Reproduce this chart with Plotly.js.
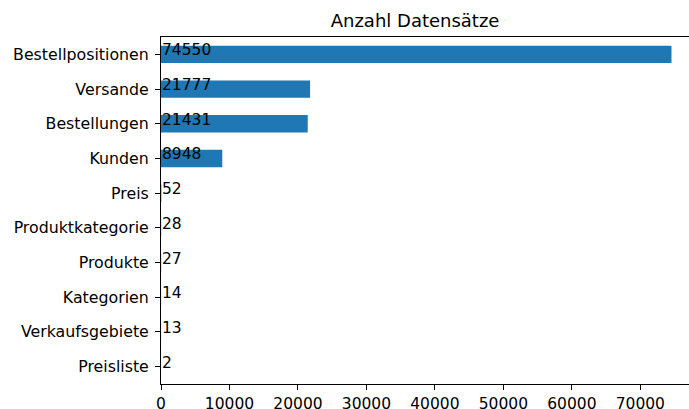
<!DOCTYPE html>
<html>
<head>
<meta charset="utf-8">
<script src="https://cdn.plot.ly/plotly-3.0.1.min.js"></script>
<style>
html,body{margin:0;padding:0;overflow:hidden;background:#fff;}
#chart{width:700px;height:409px;}
</style>
</head>
<body>
<div id="chart"></div>
<script>
const categories = ["Bestellpositionen","Versande","Bestellungen","Kunden","Preis","Produktkategorie","Produkte","Kategorien","Verkaufsgebiete","Preisliste"];
const counts = [74550, 21777, 21431, 8948, 52, 28, 27, 14, 13, 2];
const titleText = "Anzahl Datensätze";
const xTicks = [0,10000,20000,30000,40000,50000,60000,70000];

const font = "DejaVu Sans, sans-serif";

const bars = {
  type: "bar",
  orientation: "h",
  x: counts,
  y: categories,
  width: 0.5,
  marker: {color: "#1f77b4", line: {width: 0}},
  hoverinfo: "none",
  showlegend: false
};

const labelAnnotations = counts.map((v, i) => ({
  x: 0,
  y: categories[i],
  xref: "x",
  yref: "y",
  text: String(v),
  showarrow: false,
  xanchor: "left",
  yanchor: "middle",
  xshift: 0,
  yshift: 4,
  borderpad: 0,
  font: {family: font, size: 15.5, color: "#000"}
}));

const layout = {
  width: 700,
  height: 409,
  margin: {l: 161.3, r: 2.6, t: 36.7, b: 25},
  paper_bgcolor: "#fff",
  plot_bgcolor: "#fff",
  font: {family: font, color: "#000"},
  title: {
    text: titleText,
    font: {family: font, size: 18, color: "#000"},
    xref: "paper", x: 0.474, xanchor: "center",
    yref: "container", y: 1 - 20.5/409, yanchor: "middle"
  },
  annotations: labelAnnotations,
  xaxis: {
    range: [0, 78277.5],
    tickvals: xTicks,
    ticktext: xTicks.map(String),
    showgrid: false,
    zeroline: false,
    showline: true,
    linecolor: "#000",
    linewidth: 1,
    mirror: true,
    ticks: "outside",
    ticklen: 5,
    tickcolor: "#000",
    tickfont: {family: font, size: 15.5, color: "#000"}
  },
  yaxis: {
    type: "category",
    categoryorder: "array",
    categoryarray: categories.slice().reverse(),
    range: [-0.5, 9.5],
    showgrid: false,
    zeroline: false,
    showline: true,
    linecolor: "#000",
    linewidth: 1,
    mirror: true,
    ticks: "outside",
    ticklen: 5,
    tickcolor: "#000",
    ticklabelstandoff: 3,
    tickfont: {family: font, size: 15.8, color: "#000"}
  }
};

Plotly.newPlot("chart", [bars], layout, {displayModeBar: false, staticPlot: true});
</script>
</body>
</html>
